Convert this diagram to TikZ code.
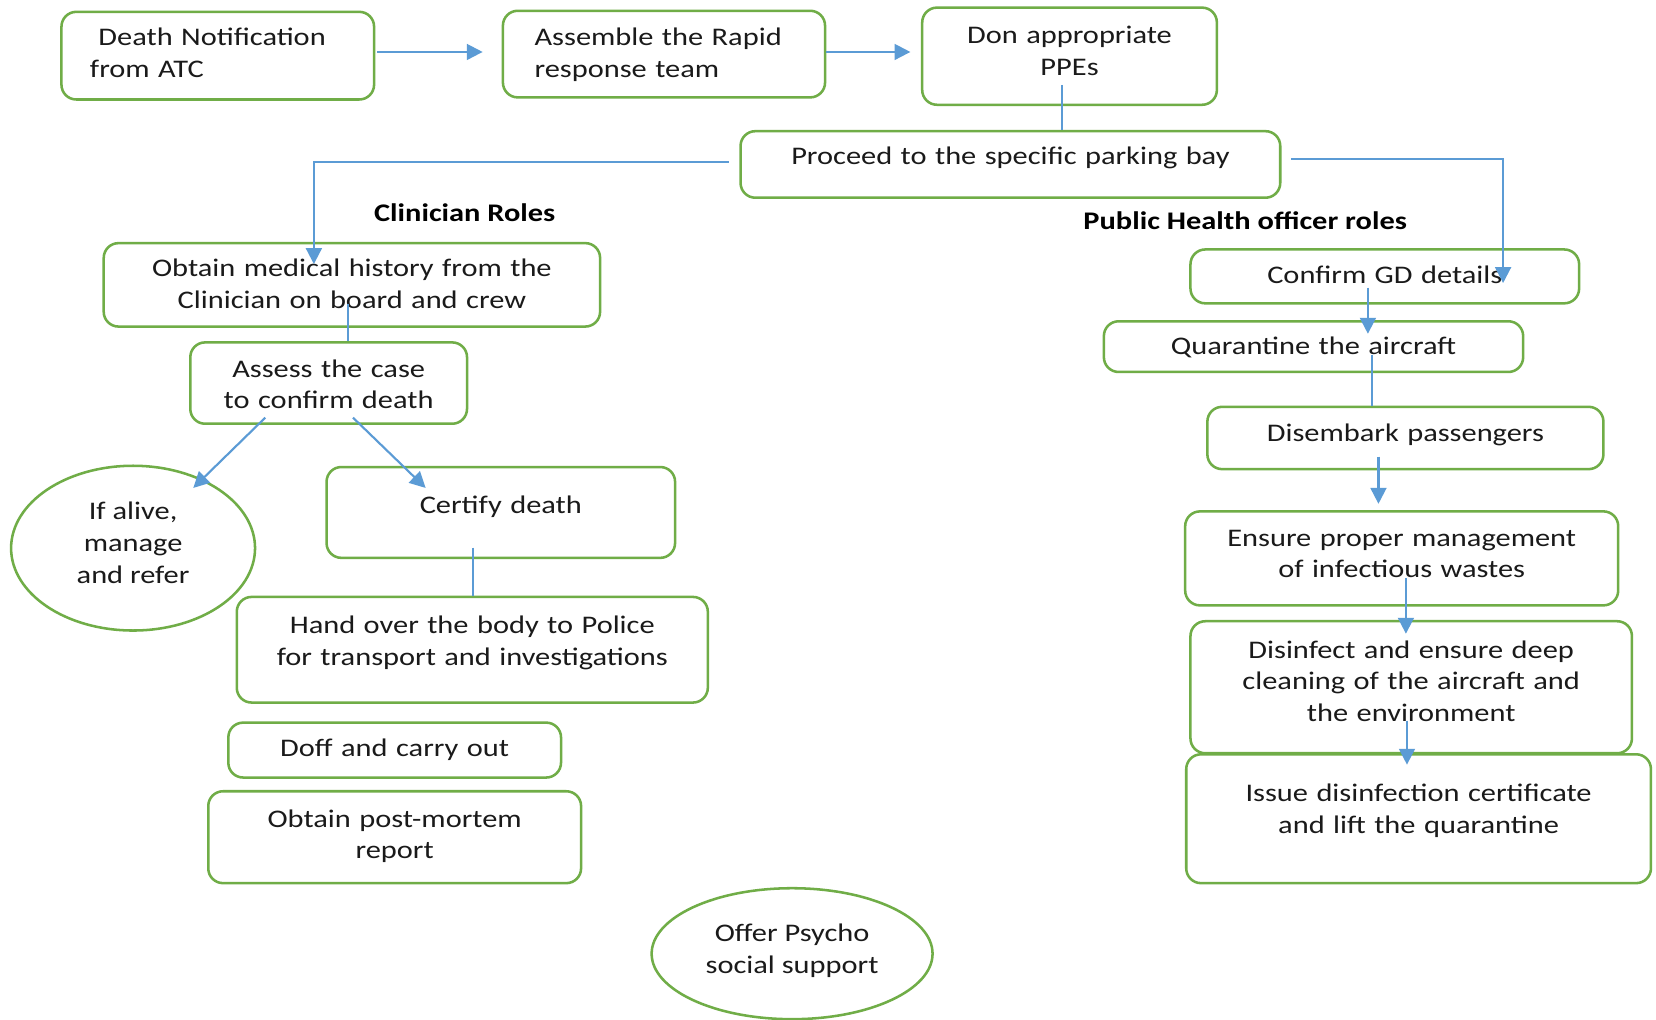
\documentclass[tikz,border=0pt]{standalone}
\usepackage{fontspec}
\setmainfont{Carlito}[FakeStretch=1.2]
\usetikzlibrary{arrows.meta,calc,shapes.geometric}
\definecolor{bgreen}{HTML}{70AD47}
\definecolor{lblue}{HTML}{5B9BD5}
\definecolor{txt}{HTML}{1A1A1A}
\begin{document}
\begin{tikzpicture}[x=0.5pt,y=-0.5pt,
  box/.style={draw=bgreen,line width=1.2pt,rounded corners=7pt,inner ysep=0pt,inner xsep=4pt,
    anchor=north west,align=center,text=txt,font=\fontsize{12}{15}\selectfont},
  ell/.style={draw=bgreen,line width=1.2pt,ellipse,inner sep=0pt,align=center,text=txt,
    font=\fontsize{12}{15}\selectfont},
  lbl/.style={text=black,font=\bfseries\fontsize{12}{15}\selectfont},
  arr/.style={draw=lblue,line width=1pt,-{Triangle[length=7.5pt,width=7.5pt]}},
  ln/.style={draw=lblue,line width=1pt}]
\useasboundingbox (0,0) rectangle (1568,965);
\fill[white] (0,0) rectangle (1568,965);

% top row
\node[box,align=left,inner xsep=13.5pt,text width=121pt,text height=16pt,text depth=25.5pt] (n1) at (57,10)
  {\hspace*{4pt}Death Notification\\from ATC};
\node[box,align=left,inner xsep=15pt,text width=122.5pt,text height=16.5pt,text depth=24.5pt] (n2) at (475,9)
  {Assemble the Rapid\\response team};
\node[box,text width=131.5pt,text height=17pt,text depth=29pt] (n3) at (872,6)
  {Don appropriate\\PPEs};
\node[box,text width=247.5pt,text height=16pt,text depth=15.5pt] (n4) at (700,123)
  {Proceed to the specific parking bay};

% section labels
\node[lbl] (t1) at (440,201) {Clinician Roles};
\node[lbl] (t2) at (1179,209) {Public Health officer roles};

% clinician side
\node[box,text width=227pt,text height=16pt,text depth=23.5pt] (n7) at (97,229)
  {Obtain medical history from the\\Clinician on board and crew};
\node[box,text width=123pt,text height=16.5pt,text depth=22pt] (n8) at (179,323)
  {Assess the case\\to confirm death};
\node[ell,minimum width=115.5pt,minimum height=78pt] (n9) at (126,519)
  {If alive,\\manage\\and refer\\[-10pt]};
\node[box,text width=157pt,text height=22pt,text depth=21pt] (n10) at (308,441)
  {Certify death};
\node[box,text width=215pt,text height=17.5pt,text depth=32.5pt] (n11) at (223,564)
  {Hand over the body to Police\\for transport and investigations};
\node[box,text width=149.5pt,text height=16pt,text depth=10pt] (n12) at (215,683)
  {Doff and carry out};
\node[box,text width=168.5pt,text height=17pt,text depth=26.5pt] (n13) at (196,748)
  {Obtain post-mortem\\report};
\node[ell,minimum width=133pt,minimum height=62pt] (n14) at (750,903)
  {Offer Psycho\\social support\\[-10pt]};

% public health side
\node[box,text width=176pt,text height=16pt,text depth=9.5pt] (n15) at (1126,235)
  {Confirm GD details};
\node[box,text width=190.5pt,text height=15.5pt,text depth=8.5pt] (n16) at (1044,303)
  {Quarantine the aircraft};
\node[box,text width=179.5pt,text height=16.5pt,text depth=13pt] (n17) at (1142,384)
  {Disembark passengers};
\node[box,text width=197pt,text height=16.5pt,text depth=28pt] (n18) at (1121,483)
  {Ensure proper management\\of infectious wastes};
\node[box,text width=201pt,text height=17.5pt,text depth=45pt] (n19) at (1126,587)
  {Disinfect and ensure deep\\cleaning of the aircraft and\\the environment};
\node[box,text width=212pt,text height=22.5pt,text depth=38.5pt] (n20) at (1122,713)
  {Issue disinfection certificate\\and lift the quarantine};

% connectors
\draw[arr] ($(n1.east)+(2,-3.5)$) -- ($(n2.west)+(-18,-2)$);
\draw[arr] ($(n2.east)+(0,-2)$) -- ($(n3.west)+(-10,-4)$);
\coordinate (c3) at ($(n3.south)+(-7.5,-20)$);
\draw[ln] (c3) -- (c3 |- n4.north);
\draw[arr] ($(n4.west)+(-10,-2.5)$) -| ($(n7.north)+(-36,21)$);
\draw[arr] ($(n4.east)+(9,-5.5)$) -| ($(n15.north)+(112,33)$);
\coordinate (c6) at ($(n7.south)+(-4,-23)$);
\draw[ln] (c6) -- (c6 |- n8.north);
\draw[arr] ($(n8.south)+(-60,-7)$) -- ($(n9.center)+(57,-57)$);
\draw[arr] ($(n8.south)+(23,-7)$) -- ($(n10.north west)+(95,21)$);
\coordinate (c9) at ($(n10.south)+(-26,-11)$);
\draw[ln] (c9) -- (c9 |- n11.north);
\coordinate (c10) at ($(n15.south)+(-16,-16)$);
\draw[arr] (c10) -- (c10 |- {$(n16.north)+(0,13)$});
\coordinate (c11) at ($(n16.south)+(55.5,-17)$);
\draw[ln] (c11) -- (c11 |- n17.north);
\coordinate (c12) at ($(n17.south)+(-25.5,-13)$);
\draw[arr] (c12) -- (c12 |- {$(n18.north)+(0,-6)$});
\coordinate (c13) at ($(n18.south)+(4,-27)$);
\draw[arr] (c13) -- (c13 |- {$(n19.north)+(0,13)$});
\coordinate (c14) at ($(n19.south)+(-4,-32)$);
\draw[arr] (c14) -- (c14 |- {$(n20.north)+(0,11)$});
\end{tikzpicture}
\end{document}
